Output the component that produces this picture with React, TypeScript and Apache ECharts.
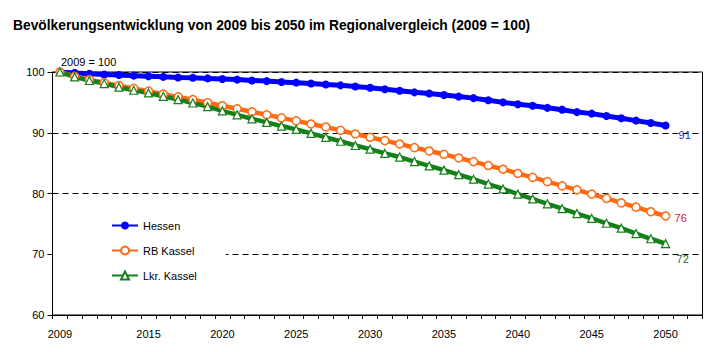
import React, { useEffect, useRef } from "react";
import * as echarts from "echarts";

const title = "Bevölkerungsentwicklung von 2009 bis 2050 im Regionalvergleich (2009 = 100)";
const baseNote = "2009 = 100";

const years = [
  2009, 2010, 2011, 2012, 2013, 2014, 2015, 2016, 2017, 2018, 2019, 2020, 2021, 2022,
  2023, 2024, 2025, 2026, 2027, 2028, 2029, 2030, 2031, 2032, 2033, 2034, 2035, 2036,
  2037, 2038, 2039, 2040, 2041, 2042, 2043, 2044, 2045, 2046, 2047, 2048, 2049, 2050,
];

const labelYears = [2009, 2015, 2020, 2025, 2030, 2035, 2040, 2045, 2050];

const hessen = [
  100, 99.85, 99.7, 99.6, 99.5, 99.4, 99.3, 99.2, 99.1, 99.05, 98.95, 98.85, 98.75, 98.6,
  98.5, 98.35, 98.25, 98.1, 97.95, 97.8, 97.6, 97.4, 97.15, 96.9, 96.65, 96.45, 96.2, 95.95,
  95.7, 95.35, 95.0, 94.7, 94.45, 94.1, 93.8, 93.4, 93.15, 92.75, 92.4, 92.0, 91.6, 91.2,
];

const rbKassel = [
  100, 99.3, 98.75, 98.25, 97.75, 97.3, 96.85, 96.35, 95.9, 95.45, 94.95, 94.45, 93.95, 93.45,
  92.95, 92.45, 91.95, 91.45, 90.95, 90.4, 89.8, 89.25, 88.7, 88.15, 87.55, 87.0, 86.45, 85.85,
  85.25, 84.6, 84.0, 83.3, 82.65, 81.95, 81.25, 80.6, 79.9, 79.2, 78.45, 77.75, 77.0, 76.3,
];

const lkrKassel = [
  100, 99.2, 98.6, 98.1, 97.5, 97.0, 96.55, 96.0, 95.45, 94.9, 94.3, 93.6, 92.95, 92.3,
  91.7, 91.1, 90.55, 89.9, 89.25, 88.6, 87.9, 87.3, 86.6, 86.0, 85.25, 84.55, 83.85, 83.1,
  82.35, 81.55, 80.75, 79.9, 79.1, 78.3, 77.5, 76.7, 75.9, 75.1, 74.3, 73.4, 72.55, 71.75,
];

const seriesNames = ["Hessen", "RB Kassel", "Lkr. Kassel"];

const FONT = "'Liberation Sans', Arial, sans-serif";

export default function App() {
  const ref = useRef<HTMLDivElement>(null);
  useEffect(() => {
    if (!ref.current) return;
    const chart = echarts.init(ref.current, undefined, { renderer: "svg" });
    const tickPositions: number[] = [];
    for (let v = 2008.5; v <= 2052.5; v += 1) tickPositions.push(v);
    const pairs = (vals: number[]) => years.map((y, i) => [y, vals[i]]);
    const endFmt = (p: any) => String(Math.round(p.value[1]));

    chart.setOption({
      animation: false,
      backgroundColor: "#fff",
      textStyle: { fontFamily: FONT },
      title: {
        text: title,
        left: 8,
        top: 13,
        textStyle: { fontSize: 13.8, fontWeight: "bold", color: "#000", fontFamily: FONT },
      },
      graphic: [
        {
          type: "text",
          left: 61,
          top: 56,
          style: { text: baseNote, fontSize: 11, fill: "#000", fontFamily: FONT },
        },
      ],
      legend: {
        data: seriesNames,
        orient: "vertical",
        left: 53,
        top: 207,
        itemWidth: 26,
        itemHeight: 10,
        itemGap: 14,
        padding: [13, 29, 8, 58],
        backgroundColor: "#fff",
        textStyle: { fontSize: 11, color: "#000", fontFamily: FONT },
      },
      grid: {
        left: 52.5,
        right: 23.5,
        top: 72,
        bottom: 37,
        show: true,
        borderColor: "#000",
        borderWidth: 1,
        backgroundColor: "transparent",
      },
      xAxis: {
        type: "value",
        min: 2008.5,
        max: 2052.5,
        axisLine: { show: true, lineStyle: { color: "#000", width: 1 } },
        axisTick: {
          show: true,
          length: 4,
          customValues: tickPositions,
          lineStyle: { color: "#000" },
        },
        axisLabel: {
          customValues: labelYears,
          formatter: (v: number) => String(v),
          fontSize: 11,
          color: "#000",
          margin: 13,
          fontFamily: FONT,
        },
        splitLine: { show: false },
      },
      yAxis: {
        type: "value",
        min: 60,
        max: 100,
        interval: 10,
        axisLine: { show: true, lineStyle: { color: "#000", width: 1 } },
        axisTick: { show: true, length: 5, lineStyle: { color: "#000" } },
        axisLabel: { fontSize: 11, color: "#000", margin: 8, fontFamily: FONT },
        splitLine: { show: true, lineStyle: { color: "#000", type: [6, 4], width: 1 } },
      },
      series: [
        {
          name: seriesNames[0],
          type: "line",
          data: pairs(hessen),
          symbol: "circle",
          symbolSize: 8,
          itemStyle: { color: "#0000ff" },
          lineStyle: { color: "#0000ff", width: 5 },
          endLabel: {
            show: true,
            formatter: endFmt,
            distance: 0,
            offset: [13, 10],
            color: "#3030d0",
            fontSize: 11,
            fontFamily: FONT,
          },
        },
        {
          name: seriesNames[1],
          type: "line",
          data: pairs(rbKassel),
          symbol: "circle",
          symbolSize: 8,
          itemStyle: { color: "#fff", borderColor: "#ff6a13", borderWidth: 1.5 },
          lineStyle: { color: "#ff6a13", width: 4.5 },
          endLabel: {
            show: true,
            formatter: endFmt,
            distance: 0,
            offset: [9, 2],
            color: "#e0103a",
            fontSize: 11,
            fontFamily: FONT,
          },
        },
        {
          name: seriesNames[2],
          type: "line",
          data: pairs(lkrKassel),
          symbol: "triangle",
          symbolSize: 8,
          itemStyle: { color: "#fff", borderColor: "#15801a", borderWidth: 1.2 },
          lineStyle: { color: "#15801a", width: 4.5 },
          endLabel: {
            show: true,
            formatter: endFmt,
            distance: 0,
            offset: [11, 15],
            color: "#2d6e2d",
            fontSize: 11,
            fontFamily: FONT,
          },
        },
      ],
    });
    return () => chart.dispose();
  }, []);

  return (
    <div
      ref={ref}
      style={{ position: "fixed", left: 0, top: 0, width: 726, height: 352 }}
    />
  );
}
